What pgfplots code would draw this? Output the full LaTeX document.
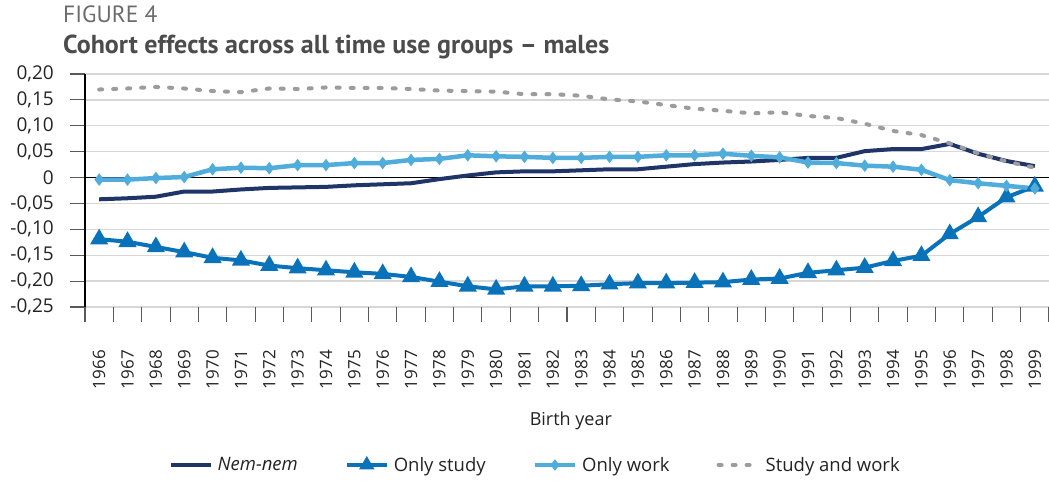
\documentclass[border=0pt]{standalone}
\usepackage{fontspec}
\setmainfont{Open Sans}
\newfontfamily\ptsans{PT Sans}
\usepackage{pgfplots}
\usepackage{pgfplotstable}
\pgfplotsset{compat=1.18}
\definecolor{navy}{RGB}{31,53,104}
\definecolor{midblue}{RGB}{10,114,184}
\definecolor{lightblue}{RGB}{80,172,219}
\definecolor{dashgray}{RGB}{155,155,160}
\definecolor{gridgray}{RGB}{215,215,215}
\definecolor{tickgray}{RGB}{90,90,90}
\definecolor{txt}{RGB}{35,35,35}
\pgfplotstableread{
x nem study work both
0 -0.042 -0.119 -0.004 0.170
1 -0.040 -0.124 -0.004 0.172
2 -0.037 -0.134 -0.001 0.175
3 -0.027 -0.144 0.001 0.172
4 -0.027 -0.155 0.016 0.167
5 -0.023 -0.160 0.019 0.165
6 -0.020 -0.170 0.018 0.172
7 -0.019 -0.175 0.024 0.171
8 -0.018 -0.179 0.024 0.174
9 -0.015 -0.183 0.028 0.173
10 -0.013 -0.186 0.028 0.173
11 -0.011 -0.192 0.034 0.171
12 -0.003 -0.201 0.036 0.168
13 0.004 -0.210 0.043 0.167
14 0.010 -0.216 0.041 0.166
15 0.012 -0.210 0.040 0.161
16 0.012 -0.210 0.038 0.161
17 0.014 -0.209 0.038 0.158
18 0.016 -0.206 0.040 0.151
19 0.016 -0.204 0.040 0.147
20 0.021 -0.204 0.043 0.140
21 0.026 -0.203 0.043 0.133
22 0.029 -0.202 0.046 0.129
23 0.031 -0.197 0.042 0.124
24 0.034 -0.195 0.039 0.126
25 0.038 -0.184 0.029 0.119
26 0.038 -0.179 0.028 0.115
27 0.051 -0.174 0.023 0.104
28 0.055 -0.161 0.021 0.090
29 0.055 -0.151 0.015 0.082
30 0.065 -0.109 -0.005 0.066
31 0.046 -0.076 -0.011 0.047
32 0.032 -0.038 -0.016 0.031
33 0.022 -0.017 -0.021 0.019
}\datatable
\begin{document}
\begin{tikzpicture}
\useasboundingbox (-85pt,-174pt) rectangle (964pt,307pt);
\node[anchor=base west, inner sep=0pt, text=black!58] at (-22pt,284pt) {\fontsize{23.5}{23.5}\selectfont\ptsans FIGURE 4};
\node[anchor=base west, inner sep=0pt, text=black!70] at (-22pt,253pt) {\fontsize{26}{26}\selectfont\ptsans\bfseries Cohort effects across all time use groups – males};
\begin{axis}[
  at={(0pt,0pt)}, anchor=south west,
  scale only axis,
  width=964pt, height=233pt,
  xmin=-0.5, xmax=33.5,
  ymin=-0.25, ymax=0.20,
  axis x line*=bottom, axis y line*=left,
  axis line style={-},
  x axis line style={draw=none},
  y axis line style={draw=black, line width=1.1pt},
  ytick={-0.25,-0.2,-0.15,-0.1,-0.05,0,0.05,0.1,0.15,0.2},
  yticklabels={{-0,25},{-0,20},{-0,15},{-0,10},{-0,05},{0},{0,05},{0,10},{0,15},{0,20}},
  ymajorgrids,
  grid style={draw=gridgray, line width=1.3pt},
  tick align=outside,
  major tick length=15pt,
  tick style={draw=tickgray, line width=1.1pt},
  xtick={-0.5,0.5,...,33.5},
  xticklabels={},
  extra x ticks={0,1,...,33},
  extra x tick labels={1966,1967,1968,1969,1970,1971,1972,1973,1974,1975,1976,1977,1978,1979,1980,1981,1982,1983,1984,1985,1986,1987,1988,1989,1990,1991,1992,1993,1994,1995,1996,1997,1998,1999},
  extra x tick style={major tick length=0pt},
  xticklabel style={rotate=90, anchor=east, inner sep=0pt, font=\fontsize{17}{17}\selectfont, text=txt},
  xticklabel shift=43pt,
  yticklabel style={anchor=east, inner sep=0pt, font=\fontsize{19}{19}\selectfont, text=txt},
  yticklabel shift=16pt,
  xlabel={Birth year},
  xlabel style={at={(axis description cs:0.504,-0.489)}, anchor=center, font=\fontsize{18}{18}\selectfont, text=txt},
  legend columns=4,
  legend style={at={(axis description cs:0.467,-0.678)}, anchor=center, draw=none, fill=none,
    font=\fontsize{18.5}{18.5}\selectfont, text=txt,
    /tikz/every even column/.append style={column sep=45pt},
    /tikz/every odd column/.append style={column sep=3pt}},
  legend cell align=left,
  legend image code/.code={\draw[mark repeat=2,mark phase=2, mark size=5pt] plot coordinates {(0pt,0pt) (20pt,0pt) (40pt,0pt)};},
]
\addplot[black, line width=1.2pt, forget plot] coordinates {(-0.5,0) (33.5,0)};
\addplot[navy, line width=4pt, no markers] table[x=x, y=nem] {\datatable};
\addlegendentry{\textit{Nem-nem}}
\addplot[midblue, line width=4pt, mark=triangle*, mark size=6.5pt, mark options={solid}] table[x=x, y=study] {\datatable};
\addlegendentry{Only study}
\addplot[lightblue, line width=4.5pt, mark=diamond*, mark size=5.5pt, mark options={solid, line width=1pt}] table[x=x, y=work] {\datatable};
\addlegendentry{Only work}
\addplot[dashgray, line width=4pt, line cap=round, dash pattern=on 3pt off 11pt, no markers] table[x=x, y=both] {\datatable};
\addlegendentry{Study and work}
\end{axis}
\end{tikzpicture}
\end{document}
